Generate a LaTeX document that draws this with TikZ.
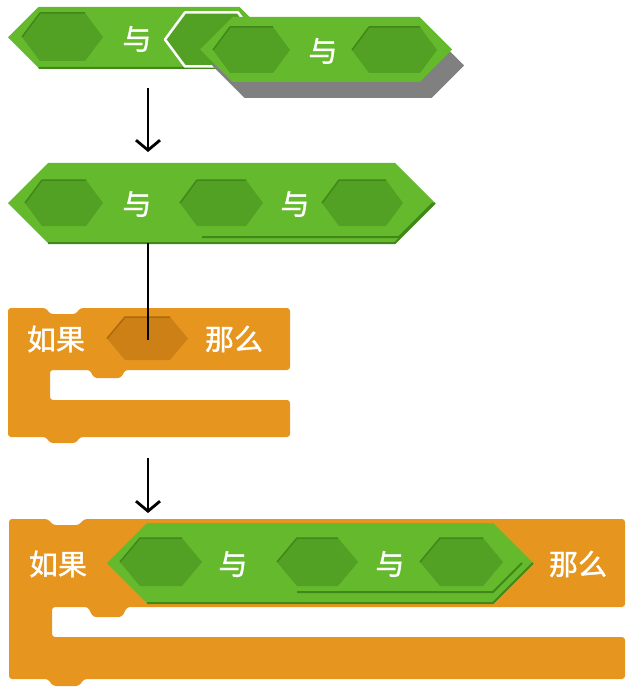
\documentclass[tikz,border=0pt]{standalone}
\usepackage{fontspec}
\newfontfamily\cjk[FakeBold=1.2]{Noto Sans CJK SC}
\usetikzlibrary{arrows.meta}
\definecolor{blkgreen}{RGB}{100,186,44}
\definecolor{slotgreen}{RGB}{82,160,36}
\definecolor{edgegreen}{RGB}{66,135,26}
\definecolor{blkorange}{RGB}{230,150,30}
\definecolor{slotorange}{RGB}{204,128,22}
\definecolor{edgeorange}{RGB}{170,105,15}
\definecolor{shadowgray}{RGB}{128,128,128}
% #1 style, #2 left tip x, #3 right tip x, #4 centre y, #5 half height, #6 horizontal offset
\newcommand\hexblk[6]{\path[#1] ({#2},{#4}) -- ({#2+#6},{#4-#5}) -- ({#3-#6},{#4-#5}) -- ({#3},{#4}) -- ({#3-#6},{#4+#5}) -- ({#2+#6},{#4+#5}) -- cycle;}
\newcommand\hextop[6]{\path[#1] ({#2},{#4}) -- ({#2+#6},{#4-#5}) -- ({#3-#6},{#4-#5});}
\newcommand\hexbot[6]{\path[#1] ({#2+#6},{#4+#5}) -- ({#3-#6},{#4+#5}) -- ({#3},{#4});}
\begin{document}
\begin{tikzpicture}[x=1pt,y=-1pt,
  lbl/.style={text=white,font=\cjk\fontsize{29}{29}\selectfont,inner sep=0pt},
  gblk/.style={fill=blkgreen},
  gslot/.style={fill=slotgreen},
  gtop/.style={draw=edgegreen,line width=1.5pt,line join=round},
  gbot/.style={draw=edgegreen,line width=2pt,line join=round},
  oblk/.style={fill=blkorange,rounded corners=3pt},
  arr/.style={line width=2.8pt,-{Straight Barb[length=10pt,width=24pt,line width=2.8pt]}},
  conn/.style={line width=2.8pt}]
\useasboundingbox (0,0) rectangle (626,687);

% ---------- top: block 1 with highlighted slot ----------
\hexblk{gblk}{8}{270}{37.5}{30.5}{30.5}
\hexbot{gbot}{8}{270}{37.5}{30.5}{30.5}
\hexblk{gslot}{22}{103}{37}{24}{18}
\hextop{gtop}{22}{103}{37}{24}{18}
\node[lbl] (t1) at (137,39) {与};
\hexblk{gslot,draw=white,line width=2.5pt,line join=round}{165}{258}{39.5}{27}{20}
% shadow of dragged block
\hexblk{fill=shadowgray}{212}{464}{65.5}{32.5}{32.5}
% dragged block 2
\hexblk{gblk}{200}{452}{49.5}{32.5}{32.5}
\hexblk{gslot}{213}{290}{50}{23}{17}
\hextop{gtop}{213}{290}{50}{23}{17}
\node[lbl] (t2) at (323,51) {与};
\hexblk{gslot}{352}{437}{50}{23}{17}
\hextop{gtop}{352}{437}{50}{23}{17}

% arrow 1
\coordinate (a1s) at (148,88);
\coordinate (a1e) at (148,152);
\draw[arr] (a1s) -- (a1e);

% ---------- block 3 ----------
\hexblk{gblk}{8}{435}{203}{40}{40}
\hexbot{gbot}{8}{435}{203}{40}{40}
\hexblk{gslot}{25}{103}{203}{23}{17}
\hextop{gtop}{25}{103}{203}{23}{17}
\node[lbl] (t3) at (137,204) {与};
\hexblk{gblk}{168}{433}{203}{34}{34}
\hexbot{gbot}{168}{433}{203}{34}{34}
\hexblk{gslot}{180}{263}{203}{23}{17}
\hextop{gtop}{180}{263}{203}{23}{17}
\node[lbl] (t4) at (295,204) {与};
\hexblk{gslot}{322}{403}{203}{23}{17}
\hextop{gtop}{322}{403}{203}{23}{17}

% ---------- block 4 (if) ----------
\path[oblk] (8,308) -- (46,308) -- (50,314) -- (76,314) -- (80,308) -- (290,308) -- (290,370)
  -- (125,370) -- (121,378) -- (94,378) -- (90,370) -- (50,370) -- (50,400) -- (290,400)
  -- (290,437) -- (80,437) -- (76,443) -- (50,443) -- (46,437) -- (8,437) -- cycle;
\hexblk{fill=slotorange}{107}{188}{338.5}{21.5}{18}
\hextop{draw=edgeorange,line width=1.5pt,line join=round}{107}{188}{338.5}{21.5}{18}
\node[lbl] (r1) at (56,339) {如果};
\node[lbl] (n1) at (234,339) {那么};
\coordinate (slot4) at (148,340);
\coordinate (b3bot) at (148,243);
\draw[conn] (b3bot) -- (slot4);

% arrow 2
\coordinate (a2s) at (148,458);
\coordinate (a2e) at (148,513);
\draw[arr] (a2s) -- (a2e);

% ---------- block 5 ----------
\path[oblk] (9,519) -- (48,519) -- (53,525) -- (79,525) -- (84,519) -- (625,519) -- (625,607)
  -- (127,607) -- (122,617) -- (93,617) -- (88,607) -- (52,607) -- (52,637) -- (625,637)
  -- (625,679) -- (84,679) -- (79,686) -- (53,686) -- (48,679) -- (9,679) -- cycle;
\node[lbl] (r2) at (58,564) {如果};
\node[lbl] (n2) at (578,564) {那么};
\hexblk{gblk}{107}{533}{563}{40}{40}
\hexbot{gbot}{107}{533}{563}{40}{40}
\hexblk{gslot}{120}{202}{562}{24}{20}
\hextop{gtop}{120}{202}{562}{24}{20}
\node[lbl] (t5) at (233,564) {与};
\hexblk{gblk}{268}{522}{563}{29}{29}
\hexbot{gbot}{268}{522}{563}{29}{29}
\hexblk{gslot}{277}{358}{562}{24}{20}
\hextop{gtop}{277}{358}{562}{24}{20}
\node[lbl] (t6) at (390,564) {与};
\hexblk{gslot}{420}{503}{562}{24}{20}
\hextop{gtop}{420}{503}{562}{24}{20}
\end{tikzpicture}
\end{document}
